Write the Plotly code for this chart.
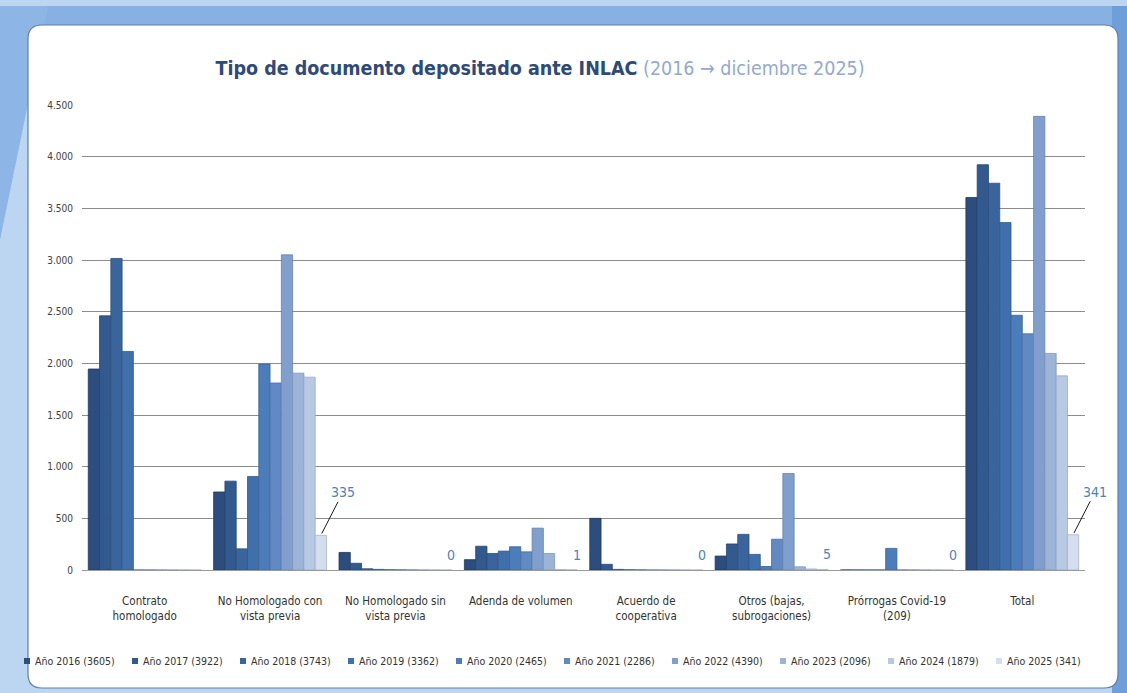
import plotly.graph_objects as go

# Document types (x categories)
categories = [
    "Contrato<br>homologado",
    "No Homologado con<br>vista previa",
    "No Homologado sin<br>vista previa",
    "Adenda de volumen",
    "Acuerdo de<br>cooperativa",
    "Otros (bajas,<br>subrogaciones)",
    "Prórrogas Covid-19<br>(209)",
    "Total",
]

years = ["2016", "2017", "2018", "2019", "2020", "2021", "2022", "2023", "2024", "2025"]

# Values per year, in category order
v2016 = [1945, 755, 170, 100, 500, 135, 0, 3605]
v2017 = [2460, 860, 65, 230, 55, 252, 0, 3922]
v2018 = [3015, 205, 12, 160, 6, 345, 0, 3743]
v2019 = [2115, 905, 6, 183, 2, 151, 0, 3362]
v2020 = [0, 1993, 3, 225, 1, 34, 209, 2465]
v2021 = [0, 1810, 2, 176, 0, 298, 0, 2286]
v2022 = [0, 3050, 1, 405, 0, 934, 0, 4390]
v2023 = [0, 1905, 0, 160, 0, 31, 0, 2096]
v2024 = [0, 1866, 0, 3, 0, 10, 0, 1879]
v2025 = [0, 335, 0, 1, 0, 5, 0, 341]

series = [v2016, v2017, v2018, v2019, v2020, v2021, v2022, v2023, v2024, v2025]

colors = ["#2C4D7E", "#335A8F", "#3A659C", "#4070AB", "#4B7DBA",
          "#6189C2", "#819FCD", "#9DB4D8", "#B8C9E3", "#D4DEEE"]
edges = ["#1F3A62", "#26466F", "#2D507C", "#33598A", "#3C6597",
         "#4E71A2", "#6783AE", "#7F96BA", "#97A9C6", "#A8B4C8"]

FONT = "DejaVu Sans Condensed, Liberation Sans, sans-serif"

# Plot area in pixels
W, H = 1127, 693
L, R, T, B = 82, 42, 105, 123
PW, PH = W - L - R, H - T - B
BARGAP = 0.1


def px(x):
    return (x - L) / PW


def py(y):
    return (H - B - y) / PH


fig = go.Figure()
for yr, vals, c, e in zip(years, series, colors, edges):
    fig.add_trace(go.Bar(
        x=categories, y=vals,
        name=f"Año {yr} ({vals[-1]})",
        marker=dict(color=c, line=dict(color=e, width=0.8)),
        hovertemplate="%{x}<br>Año " + yr + ": %{y}<extra></extra>",
        showlegend=False,
    ))

# Value labels for the 2025 series
BAR_W = PW / len(categories) * (1 - BARGAP) / len(years)
OFF_2025 = 4.5 * BAR_W
annotations = []
for i, cat in enumerate(categories):
    if i == 0:
        continue
    val = v2025[i]
    if val > 100:
        annotations.append(dict(
            x=cat, y=val, xref="x", yref="y", xshift=OFF_2025,
            text=str(val), showarrow=True, arrowhead=0, arrowwidth=1,
            arrowcolor="#1a1a1a", ax=22, ay=-43, standoff=2,
            font=dict(family=FONT, size=14, color="#4F81BD"),
        ))
    else:
        annotations.append(dict(
            x=cat, y=val, xref="x", yref="y", xshift=OFF_2025 + 5, yshift=15,
            text=str(val), showarrow=False,
            font=dict(family=FONT, size=14, color="#4F81BD"),
        ))

# Legend row: small square swatch + label per year
shapes = []
LEG_X0, LEG_PITCH, LEG_Y, SQ = 24, 108, 661, 6
for k, (yr, vals, c) in enumerate(zip(years, series, colors)):
    sx = LEG_X0 + k * LEG_PITCH
    shapes.append(dict(type="rect", xref="paper", yref="paper",
                       x0=px(sx), x1=px(sx + SQ), y0=py(LEG_Y + SQ / 2), y1=py(LEG_Y - SQ / 2),
                       fillcolor=c, line_width=0))
    annotations.append(dict(
        x=px(sx + SQ + 3), y=py(LEG_Y), xref="paper", yref="paper",
        xanchor="left", yanchor="middle", showarrow=False,
        text=f"Año {yr} ({vals[-1]})",
        font=dict(family=FONT, size=10.5, color="#333333"),
    ))

# Frame: blue border, darker wedge at top-left, white rounded panel
x0, x1, y0, y1 = px(28), px(1118), py(25), py(688)
rx, ry = 14 / PW, 14 / PH
panel_path = (
    f"M {x0 + rx},{y0} L {x1 - rx},{y0} Q {x1},{y0} {x1},{y0 - ry} "
    f"L {x1},{y1 + ry} Q {x1},{y1} {x1 - rx},{y1} "
    f"L {x0 + rx},{y1} Q {x0},{y1} {x0},{y1 + ry} "
    f"L {x0},{y0 - ry} Q {x0},{y0} {x0 + rx},{y0} Z"
)
frame = [
    dict(type="rect", xref="paper", yref="paper", x0=px(0), x1=px(W), y0=py(6), y1=py(28),
         fillcolor="#86B1E2", line_width=0, layer="below"),
    dict(type="rect", xref="paper", yref="paper", x0=px(1112), x1=px(W), y0=py(6), y1=py(H),
         fillcolor="#6E9FDB", line_width=0, layer="below"),
    dict(type="path", xref="paper", yref="paper",
         path=f"M {px(0)},{py(240)} L {px(48)},{py(6)} L {px(0)},{py(6)} Z",
         fillcolor="#8DB5E6", line_width=0, layer="below"),
    dict(type="path", xref="paper", yref="paper", path=panel_path,
         fillcolor="white", line=dict(color="#5F7FA8", width=1.2), layer="below"),
]

fig.update_layout(
    width=W, height=H,
    margin=dict(l=L, r=R, t=T, b=B),
    paper_bgcolor="#BCD5F0",
    plot_bgcolor="rgba(0,0,0,0)",
    separators=",.",
    barmode="group",
    bargap=BARGAP,
    bargroupgap=0,
    font=dict(family=FONT, size=11, color="#333333"),
    title=dict(
        text="<b><span style='color:#2E4A78'>Tipo de documento depositado ante INLAC</span></b> "
             "<span style='color:#93A9D0'>(2016 → diciembre 2025)</span>",
        x=540 / W, xanchor="center", y=1 - 68 / H, yanchor="middle",
        font=dict(family=FONT, size=19.5),
    ),
    xaxis=dict(
        range=[-0.5, len(categories) - 0.5], autorange=False,
        showgrid=False, showline=True, linecolor="#9A9A9A", linewidth=1,
        ticks="", tickfont=dict(family=FONT, size=11.5, color="#333333"),
        ticklabelstandoff=20,
    ),
    yaxis=dict(
        range=[0, 4500], dtick=500, tickformat=",.0f",
        showgrid=True, gridcolor="#8C8C8C", gridwidth=1,
        zeroline=False, showline=False, ticks="",
        tickfont=dict(family=FONT, size=10, color="#404040"),
        ticklabelstandoff=8,
    ),
    annotations=annotations,
    shapes=frame + shapes,
    showlegend=False,
)

fig.write_html("out.html")
